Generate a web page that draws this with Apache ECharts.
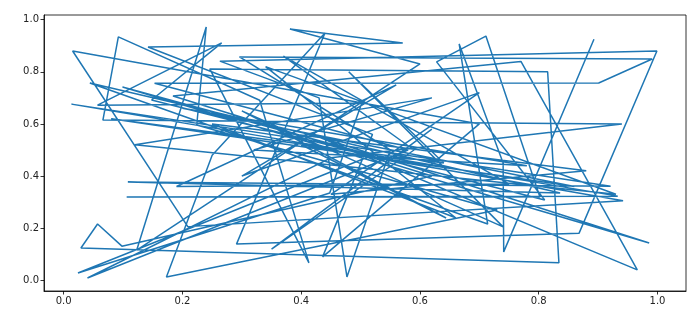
<!DOCTYPE html>
<html>
<head>
<meta charset="utf-8">
<script src="https://cdn.jsdelivr.net/npm/echarts@6/dist/echarts.min.js"></script>
<style>html,body{margin:0;padding:0;background:#fff}#c{width:700px;height:327px}</style>
</head>
<body>
<div id="c"></div>
<script>
const xValues = [0.893,0.741,0.740,0.666,0.714,0.044,0.836,0.108,0.921,0.013,
  0.933,0.106,0.802,0.711,0.628,0.810,0.148,0.266,0.057,0.502,
  0.448,0.024,0.520,0.099,0.986,0.430,0.966,0.770,0.184,0.620,
  0.098,0.057,0.029,0.834,0.815,0.246,0.413,0.330,0.092,0.066,
  0.940,0.450,0.040,0.580,0.153,0.901,0.991,0.296,0.550,0.477,
  0.430,0.263,0.999,0.868,0.291,0.440,0.250,0.173,0.730,0.224,
  0.240,0.123,0.600,0.381,0.571,0.142,0.520,0.436,0.700,0.015,
  0.209,0.942,0.400,0.644,0.300,0.740,0.480,0.640,0.080,0.860,
  0.200,0.780,0.320,0.620,0.120,0.930,0.340,0.660,0.250,0.880,
  0.450,0.700,0.300,0.560,0.190,0.750,0.370,0.590,0.350,0.620];
const yValues = [0.925,0.109,0.450,0.907,0.216,0.757,0.335,0.377,0.361,0.676,
  0.323,0.320,0.320,0.937,0.838,0.308,0.692,0.911,0.672,0.680,
  0.335,0.028,0.480,0.742,0.143,0.550,0.040,0.840,0.707,0.400,
  0.131,0.216,0.124,0.067,0.800,0.811,0.067,0.691,0.934,0.615,
  0.600,0.470,0.009,0.500,0.756,0.757,0.849,0.857,0.500,0.013,
  0.700,0.841,0.880,0.181,0.139,0.949,0.480,0.013,0.270,0.596,
  0.972,0.116,0.830,0.964,0.911,0.895,0.560,0.090,0.600,0.880,
  0.206,0.305,0.520,0.239,0.650,0.205,0.800,0.450,0.620,0.360,
  0.660,0.440,0.500,0.700,0.520,0.330,0.820,0.240,0.600,0.420,
  0.330,0.720,0.400,0.750,0.360,0.370,0.860,0.500,0.120,0.580];
const tickValues = [0, 0.2, 0.4, 0.6, 0.8, 1.0];

const seriesData = xValues.map((x, i) => [x, yValues[i]]);
const chart = echarts.init(document.getElementById('c'), null, {renderer: 'canvas'});
const axisCommon = {
  type: 'value',
  splitLine: {show: false},
  axisLine: {show: true, onZero: false, lineStyle: {color: '#000', width: 0.8}},
  axisTick: {show: true, length: 3.5, lineStyle: {color: '#000', width: 0.8}, customValues: tickValues},
  axisLabel: {color: '#222', fontFamily: 'DejaVu Sans', fontSize: 10, margin: 5,
    customValues: tickValues, formatter: v => v.toFixed(1)}
};
chart.setOption({
  animation: false,
  backgroundColor: '#fff',
  grid: {left: 44, right: 14, top: 15, bottom: 36, show: true, borderColor: '#000', borderWidth: 0.8},
  xAxis: Object.assign({}, axisCommon, {min: -0.0332, max: 1.048}),
  yAxis: Object.assign({}, axisCommon, {min: -0.041, max: 1.018}),
  series: [{
    type: 'line',
    data: seriesData,
    showSymbol: false,
    symbol: 'none',
    lineStyle: {color: '#1f77b4', width: 1.5},
    itemStyle: {color: '#1f77b4'}
  }]
});
</script>
</body>
</html>
